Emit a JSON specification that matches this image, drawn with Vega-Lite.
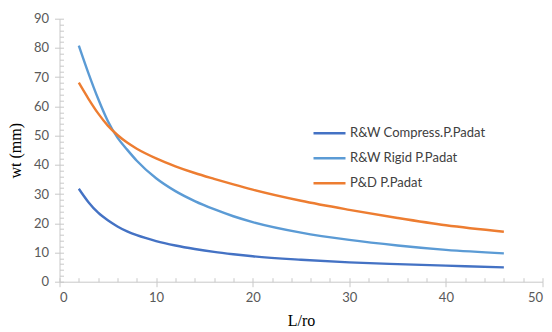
{
  "$schema": "https://vega.github.io/schema/vega-lite/v6.json",
  "width": 483,
  "height": 263,
  "autosize": "none",
  "padding": {"left": 59.5, "top": 18.7, "right": 9.5, "bottom": 50.3},
  "background": "white",
  "config": {"view": {"stroke": null}},
  "data": {"values": [
    {"x": 2, "y": 31.8, "s": "R&W Compress.P.Padat"},
    {"x": 3, "y": 27.2, "s": "R&W Compress.P.Padat"},
    {"x": 4, "y": 23.6, "s": "R&W Compress.P.Padat"},
    {"x": 5, "y": 21.0, "s": "R&W Compress.P.Padat"},
    {"x": 6, "y": 18.9, "s": "R&W Compress.P.Padat"},
    {"x": 7, "y": 17.2, "s": "R&W Compress.P.Padat"},
    {"x": 8, "y": 15.9, "s": "R&W Compress.P.Padat"},
    {"x": 10, "y": 13.9, "s": "R&W Compress.P.Padat"},
    {"x": 12, "y": 12.4, "s": "R&W Compress.P.Padat"},
    {"x": 14, "y": 11.2, "s": "R&W Compress.P.Padat"},
    {"x": 16, "y": 10.2, "s": "R&W Compress.P.Padat"},
    {"x": 18, "y": 9.4, "s": "R&W Compress.P.Padat"},
    {"x": 20, "y": 8.7, "s": "R&W Compress.P.Padat"},
    {"x": 25, "y": 7.5, "s": "R&W Compress.P.Padat"},
    {"x": 30, "y": 6.6, "s": "R&W Compress.P.Padat"},
    {"x": 35, "y": 6.0, "s": "R&W Compress.P.Padat"},
    {"x": 40, "y": 5.5, "s": "R&W Compress.P.Padat"},
    {"x": 46, "y": 4.9, "s": "R&W Compress.P.Padat"},
    {"x": 2, "y": 80.8, "s": "R&W Rigid P.Padat"},
    {"x": 3, "y": 71.3, "s": "R&W Rigid P.Padat"},
    {"x": 4, "y": 62.6, "s": "R&W Rigid P.Padat"},
    {"x": 5, "y": 55.0, "s": "R&W Rigid P.Padat"},
    {"x": 6, "y": 49.3, "s": "R&W Rigid P.Padat"},
    {"x": 7, "y": 45.2, "s": "R&W Rigid P.Padat"},
    {"x": 8, "y": 41.4, "s": "R&W Rigid P.Padat"},
    {"x": 10, "y": 35.4, "s": "R&W Rigid P.Padat"},
    {"x": 12, "y": 31.0, "s": "R&W Rigid P.Padat"},
    {"x": 14, "y": 27.6, "s": "R&W Rigid P.Padat"},
    {"x": 16, "y": 24.8, "s": "R&W Rigid P.Padat"},
    {"x": 18, "y": 22.4, "s": "R&W Rigid P.Padat"},
    {"x": 20, "y": 20.4, "s": "R&W Rigid P.Padat"},
    {"x": 25, "y": 16.8, "s": "R&W Rigid P.Padat"},
    {"x": 30, "y": 14.3, "s": "R&W Rigid P.Padat"},
    {"x": 35, "y": 12.4, "s": "R&W Rigid P.Padat"},
    {"x": 40, "y": 10.9, "s": "R&W Rigid P.Padat"},
    {"x": 46, "y": 9.7, "s": "R&W Rigid P.Padat"},
    {"x": 2, "y": 68.1, "s": "P&D P.Padat"},
    {"x": 3, "y": 62.6, "s": "P&D P.Padat"},
    {"x": 4, "y": 57.6, "s": "P&D P.Padat"},
    {"x": 5, "y": 53.4, "s": "P&D P.Padat"},
    {"x": 6, "y": 50.2, "s": "P&D P.Padat"},
    {"x": 7, "y": 47.6, "s": "P&D P.Padat"},
    {"x": 8, "y": 45.5, "s": "P&D P.Padat"},
    {"x": 10, "y": 42.2, "s": "P&D P.Padat"},
    {"x": 12, "y": 39.5, "s": "P&D P.Padat"},
    {"x": 14, "y": 37.2, "s": "P&D P.Padat"},
    {"x": 16, "y": 35.2, "s": "P&D P.Padat"},
    {"x": 18, "y": 33.3, "s": "P&D P.Padat"},
    {"x": 20, "y": 31.5, "s": "P&D P.Padat"},
    {"x": 25, "y": 27.7, "s": "P&D P.Padat"},
    {"x": 30, "y": 24.6, "s": "P&D P.Padat"},
    {"x": 35, "y": 21.8, "s": "P&D P.Padat"},
    {"x": 40, "y": 19.3, "s": "P&D P.Padat"},
    {"x": 46, "y": 17.1, "s": "P&D P.Padat"}
  ]},
  "layer": [
    {
      "mark": {"type": "line", "strokeWidth": 2.4, "interpolate": "monotone"},
      "encoding": {
        "x": {"field": "x", "type": "quantitative",
          "scale": {"domain": [0, 50], "nice": false, "zero": false},
          "axis": {"values": [0, 10, 20, 30, 40, 50], "grid": false, "orient": "bottom",
            "domainColor": "#c8c8c8", "tickColor": "#c8c8c8", "tickSize": 5, "domainWidth": 1,
            "labelFont": "Lato", "labelFontSize": 13, "labelColor": "#595959", "labelPadding": 5,
            "title": "L/ro", "titleFont": "Liberation Serif", "titleFontSize": 16, "titleFontWeight": "normal",
            "titleColor": "#000000", "titlePadding": 8}},
        "y": {"field": "y", "type": "quantitative",
          "scale": {"domain": [0, 90], "nice": false, "zero": false},
          "axis": {"values": [0, 10, 20, 30, 40, 50, 60, 70, 80, 90], "grid": false, "orient": "left",
            "domainColor": "#c8c8c8", "tickColor": "#c8c8c8", "tickSize": 5, "domainWidth": 1,
            "labelFont": "Lato", "labelFontSize": 13, "labelColor": "#595959", "labelPadding": 6,
            "title": "wt (mm)", "titleFont": "Liberation Serif", "titleFontSize": 16, "titleFontWeight": "normal",
            "titleColor": "#000000", "titlePadding": 10}},
        "color": {"field": "s", "type": "nominal",
          "scale": {"domain": ["R&W Compress.P.Padat", "R&W Rigid P.Padat", "P&D P.Padat"],
                    "range": ["#4472C4", "#5B9BD5", "#ED7D31"]},
          "legend": {"orient": "none", "legendX": 252.5, "legendY": 97, "title": null,
            "symbolType": "stroke", "symbolSize": 1024, "symbolStrokeWidth": 2.5,
            "labelFont": "Lato", "labelFontSize": 13, "labelColor": "#404040", "labelOffset": 3,
            "rowPadding": -7, "padding": 0}}
      }
    },
    {
      "mark": {"type": "point", "opacity": 0},
      "encoding": {
        "x": {"field": "x", "type": "quantitative",
          "axis": {"values": [0, 2, 4, 6, 8, 10, 12, 14, 16, 18, 20, 22, 24, 26, 28, 30, 32, 34, 36, 38, 40, 42, 44, 46, 48, 50],
            "orient": "bottom", "grid": false, "labels": false, "domain": false, "title": null,
            "tickColor": "#c8c8c8", "tickSize": -4}},
        "y": {"field": "y", "type": "quantitative",
          "axis": {"values": [0, 2, 4, 6, 8, 10, 12, 14, 16, 18, 20, 22, 24, 26, 28, 30, 32, 34, 36, 38, 40, 42, 44, 46, 48, 50, 52, 54, 56, 58, 60, 62, 64, 66, 68, 70, 72, 74, 76, 78, 80, 82, 84, 86, 88, 90],
            "orient": "left", "grid": false, "labels": false, "domain": false, "title": null,
            "tickColor": "#c8c8c8", "tickSize": -4}}
      }
    }
  ],
  "resolve": {"axis": {"x": "independent", "y": "independent"}}
}
